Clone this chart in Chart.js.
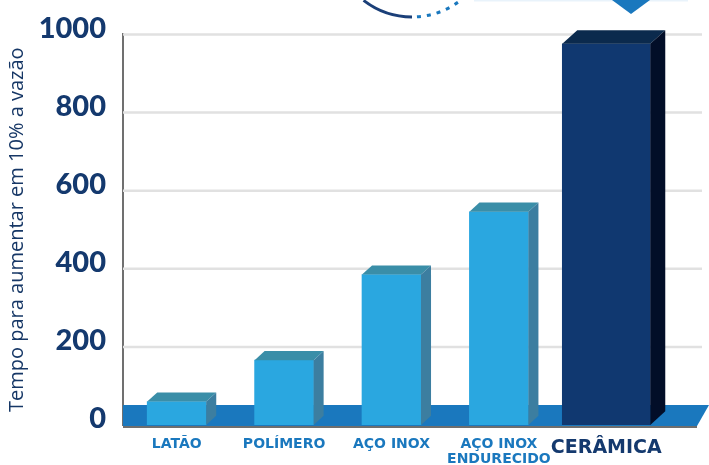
<!DOCTYPE html>
<html>
<head>
<meta charset="utf-8">
<script src="https://cdn.jsdelivr.net/npm/chart.js@4/dist/chart.umd.min.js"></script>
<style>
  html, body { margin: 0; padding: 0; background: #fff; }
</style>
</head>
<body>
<canvas id="chart" width="709" height="465"></canvas>
<script>
// data
const categories = ["LATÃO", "POLÍMERO", "AÇO INOX", ["AÇO INOX", "ENDURECIDO"], "CERÂMICA"];
const metalValues = [60, 166, 385, 546, null];
const ceramicValues = [null, null, null, null, 976];
const yTicks = [0, 200, 400, 600, 800, 1000];

const NAVY = "#14396e";
const BLUE = "#1a78be";

// 3D faces drawn on top of each bar (top and right side)
const boxFaces = {
  id: "boxFaces",
  beforeDatasetsDraw(chart) {
    const { ctx, chartArea, scales } = chart;
    const W = chart.width;
    ctx.save();
    // grid lines (they run past the category area)
    ctx.strokeStyle = "#e1e1e1";
    ctx.lineWidth = 2.5;
    yTicks.forEach(v => {
      if (v === 0) return;
      const py = scales.y.getPixelForValue(v);
      ctx.beginPath();
      ctx.moveTo(chartArea.left, py);
      ctx.lineTo(W - 7, py);
      ctx.stroke();
    });
    // blue floor band
    const b = chartArea.bottom;
    ctx.fillStyle = BLUE;
    ctx.beginPath();
    ctx.moveTo(chartArea.left, b - 20);
    ctx.lineTo(W, b - 20);
    ctx.lineTo(W - 12, b + 1);
    ctx.lineTo(chartArea.left, b + 1);
    ctx.closePath();
    ctx.fill();
    ctx.restore();
  },
  afterDatasetsDraw(chart) {
    const { ctx, chartArea } = chart;
    const topColors = ["#3a8ea8", "#0b2a4d"];
    const sideColors = ["#3c7ea0", "#020e28"];
    ctx.save();
    chart.data.datasets.forEach((ds, di) => {
      const meta = chart.getDatasetMeta(di);
      meta.data.forEach((bar, i) => {
        if (ds.data[i] == null) return;
        const { x, y, base, width } = bar.getProps(["x", "y", "base", "width"], true);
        const l = x - width / 2, r = x + width / 2;
        const dx = width * 0.17, dy = width * 0.155;
        ctx.fillStyle = topColors[di];
        ctx.beginPath();
        ctx.moveTo(l, y);
        ctx.lineTo(l + dx, y - dy);
        ctx.lineTo(r + dx, y - dy);
        ctx.lineTo(r, y);
        ctx.closePath();
        ctx.fill();
        ctx.fillStyle = sideColors[di];
        ctx.beginPath();
        ctx.moveTo(r, y);
        ctx.lineTo(r + dx, y - dy);
        ctx.lineTo(r + dx, base - dy);
        ctx.lineTo(r, base);
        ctx.closePath();
        ctx.fill();
      });
    });
    // bottom axis line
    ctx.strokeStyle = "#6e6e6e";
    ctx.lineWidth = 2;
    ctx.beginPath();
    ctx.moveTo(chartArea.left, chartArea.bottom + 2);
    ctx.lineTo(chart.width - 12, chartArea.bottom + 2);
    ctx.stroke();
    ctx.restore();
  },
  afterDraw(chart) {
    // bits of the page decoration cut off at the top
    const ctx = chart.ctx;
    ctx.save();
    ctx.strokeStyle = "#1b3f78";
    ctx.lineWidth = 3;
    ctx.beginPath();
    ctx.arc(412, -62, 79, Math.PI * 0.71, Math.PI * 0.5, true);
    ctx.stroke();
    ctx.strokeStyle = BLUE;
    ctx.lineWidth = 3;
    ctx.setLineDash([4, 6]);
    ctx.beginPath();
    ctx.arc(412, -62, 79, Math.PI * 0.48, Math.PI * 0.3, true);
    ctx.stroke();
    ctx.setLineDash([]);
    ctx.fillStyle = "#e9f3fb";
    ctx.fillRect(474, 0, 214, 1.5);
    ctx.fillStyle = BLUE;
    ctx.beginPath();
    ctx.moveTo(612, 0);
    ctx.lineTo(650, 0);
    ctx.lineTo(631, 14);
    ctx.closePath();
    ctx.fill();
    ctx.restore();
  }
};

new Chart(document.getElementById("chart"), {
  type: "bar",
  data: {
    labels: categories,
    datasets: [
      {
        data: metalValues,
        backgroundColor: "#2aa7e0",
        barThickness: 59,
      },
      {
        data: ceramicValues,
        backgroundColor: "#103870",
        barThickness: 88,
      },
    ],
  },
  options: {
    responsive: false,
    animation: false,
    layout: { padding: { top: 33, right: 49, left: 0, bottom: 0 } },
    plugins: {
      legend: { display: false },
      tooltip: { enabled: false },
    },
    scales: {
      x: {
        stacked: true,
        offset: true,
        grid: { display: false, drawTicks: false },
        border: { display: false },
        ticks: {
          padding: 12,
          autoSkip: false,
          maxRotation: 0,
          minRotation: 0,
          color: ctx => (ctx.index === 4 ? NAVY : BLUE),
          font: ctx => ctx.index === 4
            ? { family: "DejaVu Sans", size: 19, weight: "bold" }
            : { family: "DejaVu Sans", size: 14, weight: "bold", lineHeight: 1.05 },
        },
        afterFit: s => { s.height = 40; },
      },
      y: {
        min: 0,
        max: 1000,
        grid: { display: false, drawTicks: false },
        border: { color: "#707070", width: 2 },
        ticks: {
          stepSize: 200,
          padding: 17,
          labelOffset: -6,
          color: NAVY,
          font: { family: "Lato", size: 29, weight: "900" },
          callback: v => String(v),
        },
        title: {
          display: true,
          text: "Tempo para aumentar em 10% a vazão",
          color: "#163766",
          font: { family: "Open Sans", size: 20, weight: "normal" },
          padding: { top: 5, bottom: 0 },
        },
        afterFit: s => { s.width = 123; },
      },
    },
  },
  plugins: [boxFaces],
});
</script>
</body>
</html>
